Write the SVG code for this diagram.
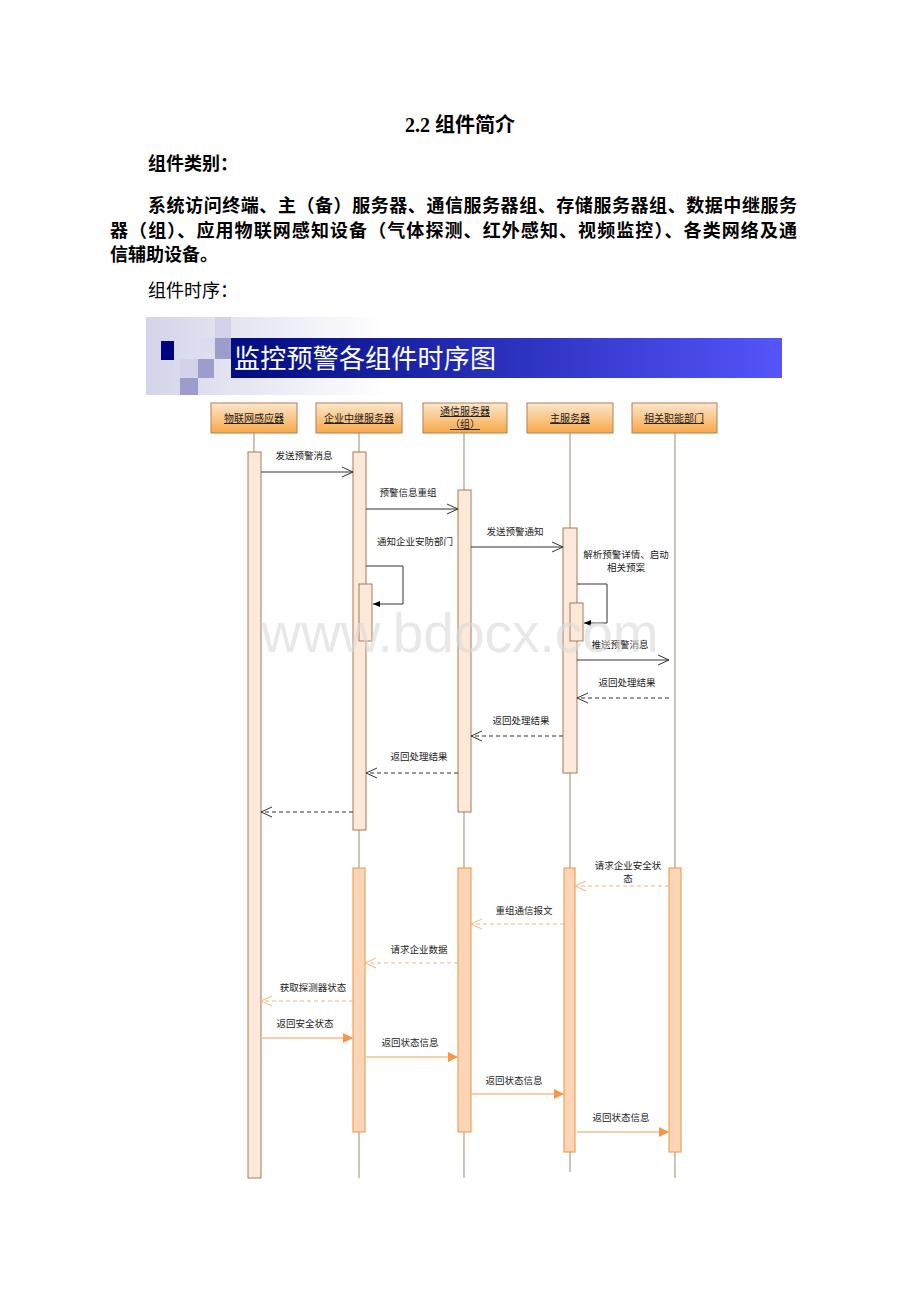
<svg xmlns="http://www.w3.org/2000/svg" width="920" height="1302" viewBox="0 0 920 1302">
<defs>
<style>
.doc{font-family:"Liberation Serif","Noto Sans CJK SC",serif;fill:#000}
.lbl{font-family:"Noto Sans CJK SC","Noto Sans",sans-serif;font-size:9.5px;fill:#222;text-anchor:middle}
.hdr{font-family:"Noto Sans CJK SC","Noto Sans",sans-serif;font-size:10px;fill:#222;text-anchor:middle;text-decoration:underline}
.life{stroke:#b5a48e;stroke-width:1.3}
.act1{fill:#fde9d9;stroke:#a87a58;stroke-width:1}
.act2{fill:#fbd5b5;stroke:#f0a258;stroke-width:1.2}
.hbox{fill:url(#hg);stroke:#b08058;stroke-width:1}
.msg{stroke:#333;stroke-width:1;fill:none}
.ret{stroke:#333;stroke-width:1;fill:none;stroke-dasharray:4,3}
.oret{stroke:#f5b47c;stroke-width:1;fill:none;stroke-dasharray:4,3}
.omsg{stroke:#f7bf8f;stroke-width:1.5;fill:none}
</style>
<linearGradient id="hg" x1="0" y1="0" x2="0" y2="1">
<stop offset="0" stop-color="#fde7cc"/>
<stop offset="1" stop-color="#f8a848"/>
</linearGradient>
<linearGradient id="band" x1="0" y1="0" x2="1" y2="0">
<stop offset="0" stop-color="#000c80"/>
<stop offset="1" stop-color="#5555fa"/>
</linearGradient>
<linearGradient id="bg" x1="0" y1="0" x2="1" y2="0">
<stop offset="0" stop-color="#d4d4ea"/>
<stop offset="0.6" stop-color="#eeeef7"/>
<stop offset="1" stop-color="#ffffff"/>
</linearGradient>
<marker id="open" markerUnits="userSpaceOnUse" markerWidth="14" markerHeight="12" refX="12" refY="6" orient="auto">
<path d="M1,1 L12,6 L1,11" fill="none" stroke="#333" stroke-width="1"/>
</marker>
<marker id="oopen" markerUnits="userSpaceOnUse" markerWidth="14" markerHeight="12" refX="12" refY="6" orient="auto">
<path d="M1,1 L12,6 L1,11" fill="none" stroke="#f5b47c" stroke-width="1"/>
</marker>
<marker id="fill" markerUnits="userSpaceOnUse" markerWidth="12" markerHeight="12" refX="10" refY="6" orient="auto">
<path d="M0,1 L10,6 L0,11 Z" fill="#f79646"/>
</marker>
<marker id="self" markerUnits="userSpaceOnUse" markerWidth="10" markerHeight="8" refX="7" refY="4" orient="auto">
<path d="M0,1 L7,4 L0,7 Z" fill="#000"/>
</marker>
</defs>
<rect width="920" height="1302" fill="#fff"/>

<g id="doc-text">
<text class="doc" x="460" y="132" font-size="20" font-weight="bold" text-anchor="middle">2.2 组件简介</text>
<text class="doc" x="148" y="170" font-size="18" font-weight="bold">组件类别：</text>
<text class="doc" x="148" y="212" font-size="18" font-weight="bold" textLength="649" lengthAdjust="spacing">系统访问终端、主（备）服务器、通信服务器组、存储服务器组、数据中继服务</text>
<text class="doc" x="110" y="237" font-size="18" font-weight="bold" textLength="687" lengthAdjust="spacing">器（组）、应用物联网感知设备（气体探测、红外感知、视频监控）、各类网络及通</text>
<text class="doc" x="110" y="261" font-size="18" font-weight="bold">信辅助设备。</text>
<text class="doc" x="148" y="297" font-size="18">组件时序：</text>
</g>

<g id="banner">
<rect x="146" y="317" width="240" height="78" fill="url(#bg)"/>
<rect x="215" y="317" width="16" height="21" fill="#d2d2ea"/>
<rect x="200" y="338" width="15" height="15" fill="#dcdcef"/>
<rect x="215" y="338" width="16" height="21" fill="#9c9ccd"/>
<rect x="180" y="359" width="18" height="19" fill="#d2d2ea"/>
<rect x="198" y="359" width="16" height="19" fill="#9c9ccd"/>
<rect x="180" y="378" width="18" height="17" fill="#9c9ccd"/>
<rect x="161" y="341" width="13" height="19" fill="#000080"/>
<rect x="231" y="338" width="551" height="40" fill="url(#band)"/>
<text x="234" y="368" font-family="Liberation Serif,Noto Sans CJK SC,serif" font-size="26" fill="#fff" textLength="262" lengthAdjust="spacing">监控预警各组件时序图</text>
</g>

<g id="lifelines">
<line class="life" x1="254" y1="433" x2="254" y2="452"/>
<line class="life" x1="359" y1="433" x2="359" y2="1178"/>
<line class="life" x1="464" y1="433" x2="464" y2="1178"/>
<line class="life" x1="570" y1="433" x2="570" y2="1172"/>
<line class="life" x1="675" y1="433" x2="675" y2="1178"/>
</g>

<g id="node-iot">
<rect class="hbox" x="211" y="403" width="86" height="30"/>
<text class="hdr" x="254" y="422">物联网感应器</text>
<rect class="act1" x="248" y="452" width="13" height="726"/>
</g>
<g id="node-relay">
<rect class="hbox" x="316" y="403" width="86" height="30"/>
<text class="hdr" x="359" y="422">企业中继服务器</text>
<rect class="act1" x="353" y="452" width="13" height="378"/>
<rect class="act1" x="359" y="584" width="13" height="57"/>
<rect class="act2" x="353" y="868" width="12" height="264"/>
</g>
<g id="node-comm">
<rect class="hbox" x="423" y="403" width="84" height="30"/>
<text class="hdr" x="465" y="415">通信服务器</text>
<text class="hdr" x="465" y="428">（组）</text>
<rect class="act1" x="458" y="490" width="13" height="322"/>
<rect class="act2" x="458" y="868" width="13" height="264"/>
</g>
<g id="node-main">
<rect class="hbox" x="527" y="403" width="86" height="30"/>
<text class="hdr" x="570" y="422">主服务器</text>
<rect class="act1" x="563" y="528" width="14" height="245"/>
<rect class="act1" x="570" y="603" width="13" height="38"/>
<rect class="act2" x="564" y="868" width="11" height="284"/>
</g>
<g id="node-dept">
<rect class="hbox" x="632" y="403" width="85" height="30"/>
<text class="hdr" x="674" y="422">相关职能部门</text>
<rect class="act2" x="669" y="868" width="12" height="284"/>
</g>

<g id="connectors">
<line class="msg" x1="261" y1="472" x2="353" y2="472" marker-end="url(#open)"/>
<text class="lbl" x="304" y="459">发送预警消息</text>
<line class="msg" x1="366" y1="509" x2="458" y2="509" marker-end="url(#open)"/>
<text class="lbl" x="408" y="496">预警信息重组</text>
<polyline class="msg" points="366,566 403,566 403,604 373,604" marker-end="url(#self)"/>
<text class="lbl" x="415" y="545">通知企业安防部门</text>
<line class="msg" x1="471" y1="547" x2="563" y2="547" marker-end="url(#open)"/>
<text class="lbl" x="515" y="535">发送预警通知</text>
<polyline class="msg" points="577,584 607,584 607,623 584,623" marker-end="url(#self)"/>
<text class="lbl" x="626" y="558">解析预警详情、启动</text>
<text class="lbl" x="626" y="571">相关预案</text>
<line class="msg" x1="577" y1="660" x2="669" y2="660" marker-end="url(#open)"/>
<text class="lbl" x="620" y="648">推送预警消息</text>
<line class="ret" x1="669" y1="698" x2="577" y2="698" marker-end="url(#open)"/>
<text class="lbl" x="627" y="686">返回处理结果</text>
<line class="ret" x1="563" y1="736" x2="471" y2="736" marker-end="url(#open)"/>
<text class="lbl" x="521" y="724">返回处理结果</text>
<line class="ret" x1="458" y1="773" x2="366" y2="773" marker-end="url(#open)"/>
<text class="lbl" x="419" y="760">返回处理结果</text>
<line class="ret" x1="353" y1="812" x2="261" y2="812" marker-end="url(#open)"/>

<line class="oret" x1="669" y1="886" x2="575" y2="886" marker-end="url(#oopen)"/>
<text class="lbl" x="628" y="869">请求企业安全状</text>
<text class="lbl" x="628" y="882">态</text>
<line class="oret" x1="564" y1="924" x2="471" y2="924" marker-end="url(#oopen)"/>
<text class="lbl" x="524" y="914">重组通信报文</text>
<line class="oret" x1="458" y1="963" x2="365" y2="963" marker-end="url(#oopen)"/>
<text class="lbl" x="419" y="953">请求企业数据</text>
<line class="oret" x1="353" y1="1001" x2="261" y2="1001" marker-end="url(#oopen)"/>
<text class="lbl" x="313" y="991">获取探测器状态</text>

<line class="omsg" x1="261" y1="1038" x2="353" y2="1038" marker-end="url(#fill)"/>
<text class="lbl" x="305" y="1027">返回安全状态</text>
<line class="omsg" x1="365" y1="1057" x2="458" y2="1057" marker-end="url(#fill)"/>
<text class="lbl" x="410" y="1046">返回状态信息</text>
<line class="omsg" x1="471" y1="1094" x2="564" y2="1094" marker-end="url(#fill)"/>
<text class="lbl" x="514" y="1084">返回状态信息</text>
<line class="omsg" x1="577" y1="1132" x2="669" y2="1132" marker-end="url(#fill)"/>
<text class="lbl" x="621" y="1121">返回状态信息</text>
</g>

<text x="460" y="652" font-family="Liberation Sans,Arial,sans-serif" font-size="55" fill="#d8d8d8" fill-opacity="0.6" text-anchor="middle">www.bdocx.com</text>
</svg>
